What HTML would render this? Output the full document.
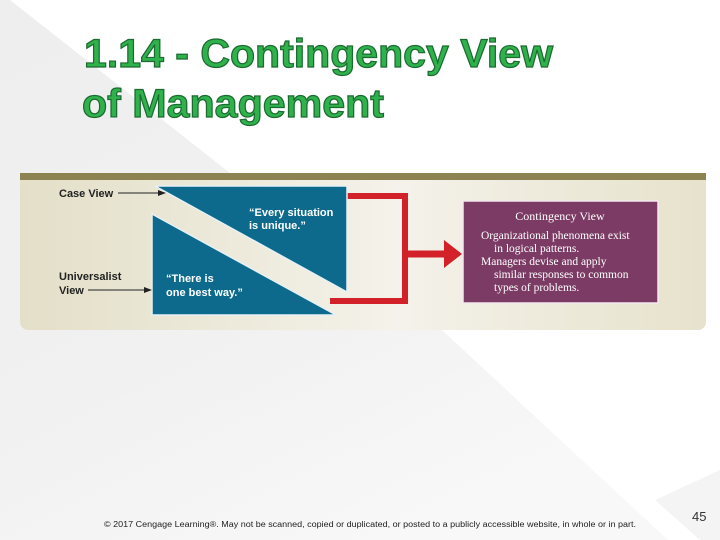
<!DOCTYPE html>
<html><head><style>
body{margin:0;width:720px;height:540px;overflow:hidden;background:#fff;font-family:"Liberation Sans",sans-serif;position:relative}
</style></head><body>
<svg width="720" height="540" style="position:absolute;left:0;top:0">
<defs>
<linearGradient id="pg" x1="0" y1="0" x2="1" y2="0">
<stop offset="0" stop-color="#e3dfc8"/><stop offset="0.55" stop-color="#f4f2ea"/><stop offset="1" stop-color="#e6e2cc"/>
</linearGradient>
<linearGradient id="bg" x1="0" y1="0" x2="0.6" y2="1">
<stop offset="0" stop-color="#eeeeee"/><stop offset="0.6" stop-color="#f1f1f1"/><stop offset="1" stop-color="#f8f8f8"/>
</linearGradient>
</defs>
<polygon points="0,0 10,0 230,173 442,330 668,540 0,540" fill="url(#bg)"/>
<polygon points="655,500 720,470 720,540 700,540" fill="#f4f4f4"/>
<text x="84" y="67" font-family="Liberation Sans" font-weight="bold" font-size="40" textLength="469" lengthAdjust="spacingAndGlyphs" fill="#2fb24b" stroke="#1b6a30" stroke-width="1.2">1.14 - Contingency View</text>
<text x="82" y="117" font-family="Liberation Sans" font-weight="bold" font-size="40" textLength="302" lengthAdjust="spacingAndGlyphs" fill="#2fb24b" stroke="#1b6a30" stroke-width="1.2">of Management</text>
<rect x="20" y="173" width="686" height="157" rx="8" fill="url(#pg)"/>
<rect x="20" y="173" width="686" height="7" fill="#8c8252"/>
<polyline points="347,196 405,196 405,301 330,301" fill="none" stroke="#d22128" stroke-width="6"/>
<line x1="405" y1="254" x2="446" y2="254" stroke="#d22128" stroke-width="7"/>
<polygon points="444,240 462,254 444,268" fill="#d22128"/>
<polygon points="155,186 347,186 347,292" fill="#0e6a8c" stroke="#e6f1f5" stroke-width="1.5"/>
<polygon points="152,214 152,315 336,315" fill="#0e6a8c" stroke="#e6f1f5" stroke-width="1.5"/>
<g font-family="Liberation Sans" font-size="11" fill="#fff" font-weight="bold">
<text x="249" y="216">“Every situation</text>
<text x="249" y="229">is unique.”</text>
<text x="166" y="282">“There is</text>
<text x="166" y="296">one best way.”</text>
</g>
<g font-family="Liberation Sans" font-size="11" fill="#222" font-weight="bold">
<text x="59" y="197">Case View</text>
<text x="59" y="280">Universalist</text>
<text x="59" y="294">View</text>
</g>
<line x1="118" y1="193" x2="158" y2="193" stroke="#222" stroke-width="1"/>
<polygon points="158,190 166,193 158,196" fill="#222"/>
<line x1="88" y1="290" x2="144" y2="290" stroke="#222" stroke-width="1"/>
<polygon points="144,287 152,290 144,293" fill="#222"/>
<rect x="463" y="201" width="195" height="102" fill="#7b3b64" stroke="#f2e8ee" stroke-width="1.5"/>
<g font-family="Liberation Serif" font-size="11.5" fill="#fff">
<text x="560" y="220" text-anchor="middle" font-size="12">Contingency View</text>
<text x="481" y="239">Organizational phenomena exist</text>
<text x="494" y="252">in logical patterns.</text>
<text x="481" y="265">Managers devise and apply</text>
<text x="494" y="278">similar responses to common</text>
<text x="494" y="291">types of problems.</text>
</g>
<text x="104" y="527" font-size="8" fill="#222" textLength="532" lengthAdjust="spacingAndGlyphs">© 2017 Cengage Learning®. May not be scanned, copied or duplicated, or posted to a publicly accessible website, in whole or in part.</text>
<text x="692" y="521" font-size="13" fill="#333">45</text>
</svg>
</body></html>
